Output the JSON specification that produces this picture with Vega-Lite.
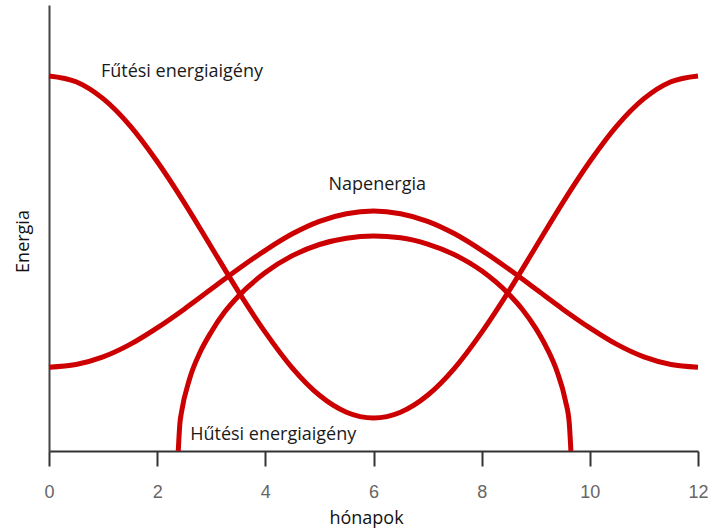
{
  "$schema": "https://vega.github.io/schema/vega-lite/v6.json",
  "width": 649,
  "height": 446,
  "autosize": {"type": "none"},
  "padding": {"left": 49, "top": 5, "right": 14, "bottom": 80},
  "background": "white",
  "config": {"view": {"stroke": null}},
  "datasets": {
    "curves": [
      {"series": "heating", "x": 0, "y": 84.1},
      {"series": "heating", "x": 0.5, "y": 82.8},
      {"series": "heating", "x": 1, "y": 79.0},
      {"series": "heating", "x": 1.5, "y": 72.9},
      {"series": "heating", "x": 2, "y": 64.9},
      {"series": "heating", "x": 2.5, "y": 55.7},
      {"series": "heating", "x": 3, "y": 45.75},
      {"series": "heating", "x": 3.5, "y": 35.8},
      {"series": "heating", "x": 4, "y": 26.6},
      {"series": "heating", "x": 4.5, "y": 18.6},
      {"series": "heating", "x": 5, "y": 12.5},
      {"series": "heating", "x": 5.5, "y": 8.7},
      {"series": "heating", "x": 6, "y": 7.4},
      {"series": "heating", "x": 6.5, "y": 8.7},
      {"series": "heating", "x": 7, "y": 12.5},
      {"series": "heating", "x": 7.5, "y": 18.6},
      {"series": "heating", "x": 8, "y": 26.6},
      {"series": "heating", "x": 8.5, "y": 35.8},
      {"series": "heating", "x": 9, "y": 45.75},
      {"series": "heating", "x": 9.5, "y": 55.7},
      {"series": "heating", "x": 10, "y": 64.9},
      {"series": "heating", "x": 10.5, "y": 72.9},
      {"series": "heating", "x": 11, "y": 79.0},
      {"series": "heating", "x": 11.5, "y": 82.8},
      {"series": "heating", "x": 12, "y": 84.1},
      {"series": "solar", "x": 0, "y": 18.8},
      {"series": "solar", "x": 0.5, "y": 19.4},
      {"series": "solar", "x": 1, "y": 21.1},
      {"series": "solar", "x": 1.5, "y": 23.9},
      {"series": "solar", "x": 2, "y": 27.6},
      {"series": "solar", "x": 2.5, "y": 31.8},
      {"series": "solar", "x": 3, "y": 36.3},
      {"series": "solar", "x": 3.5, "y": 40.8},
      {"series": "solar", "x": 4, "y": 45.0},
      {"series": "solar", "x": 4.5, "y": 48.7},
      {"series": "solar", "x": 5, "y": 51.5},
      {"series": "solar", "x": 5.5, "y": 53.2},
      {"series": "solar", "x": 6, "y": 53.8},
      {"series": "solar", "x": 6.5, "y": 53.2},
      {"series": "solar", "x": 7, "y": 51.5},
      {"series": "solar", "x": 7.5, "y": 48.7},
      {"series": "solar", "x": 8, "y": 45.0},
      {"series": "solar", "x": 8.5, "y": 40.8},
      {"series": "solar", "x": 9, "y": 36.3},
      {"series": "solar", "x": 9.5, "y": 31.8},
      {"series": "solar", "x": 10, "y": 27.6},
      {"series": "solar", "x": 10.5, "y": 23.9},
      {"series": "solar", "x": 11, "y": 21.1},
      {"series": "solar", "x": 11.5, "y": 19.4},
      {"series": "solar", "x": 12, "y": 18.8},
      {"series": "cooling", "x": 2.39, "y": 0},
      {"series": "cooling", "x": 2.42, "y": 6.2},
      {"series": "cooling", "x": 2.45, "y": 8.7},
      {"series": "cooling", "x": 2.6, "y": 16.2},
      {"series": "cooling", "x": 2.8, "y": 22.3},
      {"series": "cooling", "x": 3.0, "y": 26.7},
      {"series": "cooling", "x": 3.25, "y": 31.2},
      {"series": "cooling", "x": 3.5, "y": 34.7},
      {"series": "cooling", "x": 4.0, "y": 40.0},
      {"series": "cooling", "x": 4.5, "y": 43.8},
      {"series": "cooling", "x": 5.0, "y": 46.3},
      {"series": "cooling", "x": 5.5, "y": 47.7},
      {"series": "cooling", "x": 6.0, "y": 48.2},
      {"series": "cooling", "x": 6.5, "y": 47.8},
      {"series": "cooling", "x": 7.0, "y": 46.4},
      {"series": "cooling", "x": 7.5, "y": 44.0},
      {"series": "cooling", "x": 8.0, "y": 40.4},
      {"series": "cooling", "x": 8.5, "y": 35.2},
      {"series": "cooling", "x": 8.75, "y": 31.8},
      {"series": "cooling", "x": 9.0, "y": 27.5},
      {"series": "cooling", "x": 9.2, "y": 23.2},
      {"series": "cooling", "x": 9.4, "y": 17.6},
      {"series": "cooling", "x": 9.55, "y": 11.2},
      {"series": "cooling", "x": 9.62, "y": 6.2},
      {"series": "cooling", "x": 9.65, "y": 0}
    ],
    "labels": [
      {"label": "Fűtési energiaigény", "x": 0.96, "y": 83.9, "anchor": "left"},
      {"label": "Napenergia", "x": 6.07, "y": 58.5, "anchor": "center"},
      {"label": "Hűtési energiaigény", "x": 2.61, "y": 2.5, "anchor": "left"}
    ]
  },
  "encoding": {
    "x": {
      "field": "x",
      "type": "quantitative",
      "scale": {"domain": [0, 12], "nice": false, "zero": false},
      "axis": {
        "values": [0, 2, 4, 6, 8, 10, 12],
        "grid": false,
        "tickSize": 15,
        "tickWidth": 2,
        "tickColor": "#333333",
        "domainColor": "#333333",
        "domainWidth": 2,
        "labelColor": "#666666",
        "labelFont": "Liberation Sans",
        "labelFontSize": 18,
        "labelBaseline": "alphabetic",
        "labelPadding": 31,
        "labelFlush": false,
        "title": "hónapok",
        "titleFont": "Open Sans",
        "titleFontSize": 18,
        "titleFontWeight": "normal",
        "titleColor": "#111111",
        "titleX": 317,
        "titleY": 72,
        "titleAlign": "center",
        "titleBaseline": "alphabetic"
      }
    },
    "y": {
      "field": "y",
      "type": "quantitative",
      "scale": {"domain": [0, 100], "nice": false, "zero": false},
      "axis": {
        "labels": false,
        "ticks": false,
        "grid": false,
        "domainColor": "#444444",
        "domainWidth": 2,
        "title": "Energia",
        "titleFont": "Open Sans",
        "titleFontSize": 18,
        "titleFontWeight": "normal",
        "titleColor": "#111111",
        "titleAngle": -90,
        "titleX": -21,
        "titleY": 236,
        "titleAlign": "center",
        "titleBaseline": "alphabetic"
      }
    }
  },
  "layer": [
    {
      "data": {"name": "curves"},
      "mark": {"type": "line", "interpolate": "monotone", "strokeWidth": 5, "color": "#cc0000", "strokeCap": "butt"},
      "encoding": {"detail": {"field": "series", "type": "nominal"}}
    },
    {
      "data": {"name": "labels"},
      "transform": [{"filter": "datum.anchor == 'left'"}],
      "mark": {"type": "text", "align": "left", "baseline": "alphabetic", "font": "Open Sans", "fontSize": 18, "color": "#1a1a1a"},
      "encoding": {"text": {"field": "label", "type": "nominal"}}
    },
    {
      "data": {"name": "labels"},
      "transform": [{"filter": "datum.anchor == 'center'"}],
      "mark": {"type": "text", "align": "center", "baseline": "alphabetic", "font": "Open Sans", "fontSize": 18, "color": "#1a1a1a"},
      "encoding": {"text": {"field": "label", "type": "nominal"}}
    }
  ]
}
